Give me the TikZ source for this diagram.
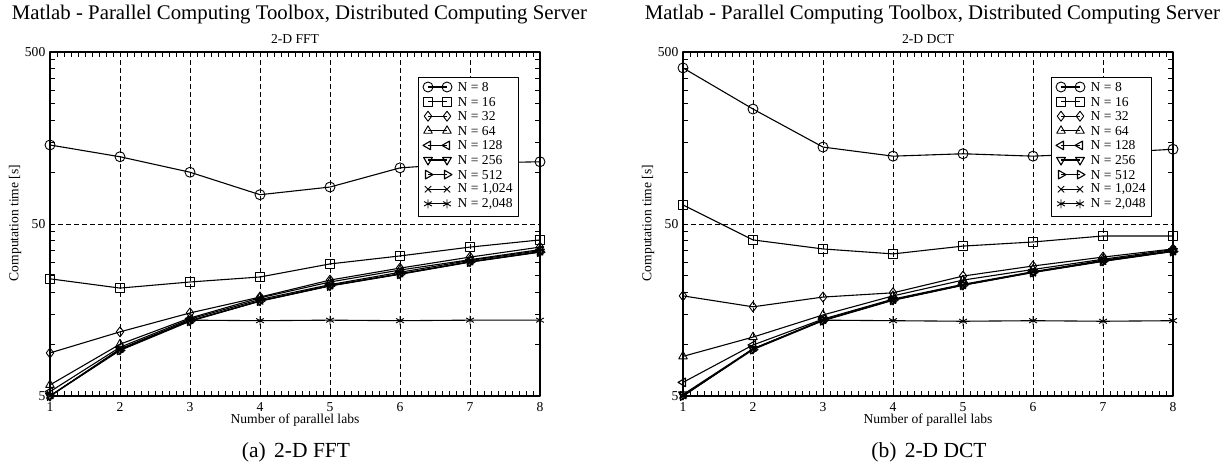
\documentclass[tikz,border=0pt]{standalone}
\usepackage{fontspec}
\setmainfont{Liberation Serif}
\usetikzlibrary{plotmarks}

% time axis is logarithmic: 500 s on top, one decade every 172 units
\pgfmathdeclarefunction{logy}{1}{\pgfmathparse{74.698*ln(500/#1)}}
\newcommand{\labfont}{\fontsize{13.6}{15}\selectfont}
\newcommand{\titlefont}{\fontsize{20.8}{23}\selectfont}
\newcommand{\capfont}{\fontsize{21.5}{24}\selectfont}

% one run of eight timings, labs = 1..8
\newcommand{\series}[2]{%
  \foreach \v [count=\i] in {#2}
    \coordinate (pt\i) at ({70*(\i-1)}, {logy(\v)});
  \draw[curve, #1] plot coordinates {(pt1) (pt2) (pt3) (pt4) (pt5) (pt6) (pt7) (pt8)};}

% frame, grid, ticks and labels of one panel (#1 prefix, #2 transform, #3 caption)
\newcommand{\panel}[3]{%
  \foreach \k in {1,...,6}
    \draw[grid] (70*\k,0) -- (70*\k,344);
  \draw[grid] (0,172) -- (490,172);
  \foreach \k in {0,...,70} {
    \draw[tick] (7*\k,344) -- ++(0,-5);
    \draw[tick] (7*\k,0) -- ++(0,5);}
  \foreach \v in {10,15,...,45,100,150,...,450} {
    \draw[tick] (0,{logy(\v)}) -- ++(5,0);
    \draw[tick] (490,{logy(\v)}) -- ++(-5,0);}
  \draw[frame] (0,0) rectangle (490,344);
  \foreach \v/\y in {500/0,50/172,5/344}
    \node[anchor=east, font=\labfont] (#1y\v) at (-4.5,\y) {\v};
  \foreach \k in {1,...,8}
    \node[font=\labfont] (#1x\k) at (70*\k-70,355) {\k};
  \node[font=\labfont] (#1xlabel) at (245,368) {Number of parallel labs};
  \node[font=\labfont, rotate=90] (#1ylabel) at (-35,171) {Computation time [s]};
  \node[anchor=base, font=\labfont] (#1sub) at (245,-8.7) {#2};
  \node[anchor=base, font=\titlefont] (#1title) at (249.5,-32.7)
    {Matlab - Parallel Computing Toolbox, Distributed Computing Server};
  \node[anchor=base, font=\capfont] (#1cap) at (246,405) {#3};}

% legend box with the nine problem sizes
\newcommand{\legendbox}[1]{%
  \draw[keybox] (368,25) rectangle (468,164);
  \foreach \n/\t [count=\r] in {8/8,16/16,32/32,64/64,128/128,256/256,512/512,1024/1{,}024,2048/2{,}048} {
    \draw[curve, n\n] plot coordinates {(378,35+14.6*\r-14.6) (397,35+14.6*\r-14.6)};
    \node[anchor=west, font=\labfont] (#1key\n) at (407.5,35+14.6*\r-14.6) {N = \t};}}

\begin{document}
\begin{tikzpicture}[x=1pt, y=-1pt, line join=round,
    every node/.style={inner sep=0pt},
    frame/.style={line width=1.2pt},
    tick/.style={line width=0.8pt},
    grid/.style={line width=0.8pt, dash pattern=on 5pt off 3pt},
    keybox/.style={line width=0.8pt, fill=white},
    curve/.style={line width=1.1pt, mark size=4.5pt, mark options={solid, line width=0.9pt}},
    n8/.style={mark=o, mark size=5pt},
    n16/.style={mark=square},
    n32/.style={mark=diamond, mark size=5pt},
    n64/.style={mark=triangle, mark size=5pt},
    n128/.style={mark=triangle, mark size=5pt, mark options={rotate=90}},
    n256/.style={mark=triangle, mark size=5pt, mark options={rotate=180}},
    n512/.style={mark=triangle, mark size=5pt, mark options={rotate=-90}},
    n1024/.style={mark=x},
    n2048/.style={mark=asterisk}]
  \useasboundingbox (0,0) rectangle (1223,468);

  % 2-D FFT
  \begin{scope}[shift={(50,52)}]
    \panel{a}{2-D FFT}{(a)\hspace{8.4pt}2-D FFT}
    \series{n8}{144,123,100,74,82,106,113,115}
    \series{n16}{24,21.2,23,24.6,29.3,32.6,36.7,40.4}
    \series{n32}{8.9,11.8,15.2,18.8,23.6,27.7,32.1,36.7}
    \series{n64}{5.8,10,14.2,18.6,23,27,31,35.5}
    \series{n128}{5.3,9.6,14,18.2,22.2,26.2,30.7,35}
    \series{n256}{5,9.3,13.7,17.9,21.9,25.7,30.2,34.5}
    \series{n512}{5,9.2,13.6,17.8,21.8,25.5,30,34.3}
    \series{n1024}{5,9.3,13.7,17.8,21.9,25.6,30.1,34.4}
    \series{n2048}{5,9.4,13.8,13.7,13.8,13.7,13.8,13.8}
    \legendbox{a}
  \end{scope}

  % 2-D DCT
  \begin{scope}[shift={(683,52)}]
    \panel{b}{2-D DCT}{(b)\hspace{8.4pt}2-D DCT}
    \series{n8}{404,233,140,124,128,124,129,136}
    \series{n16}{64.5,40.4,35.8,33.5,37.2,39.3,42.6,42.6}
    \series{n32}{19.1,16.5,18.8,19.9,24.9,28.5,32.1,35.8}
    \series{n64}{8.5,11,14.8,19.1,23.6,27.2,31.2,35.5}
    \series{n128}{6,9.9,14,18.3,22.3,26.4,30.8,35}
    \series{n256}{5.1,9.4,13.8,18.1,22.1,26.3,30.5,34.8}
    \series{n512}{5,9.3,13.7,18,22,26.1,30.3,34.6}
    \series{n1024}{5,9.4,13.8,18.1,22.1,26.2,30.4,34.7}
    \series{n2048}{5,9.4,13.8,13.7,13.6,13.7,13.6,13.7}
    \legendbox{b}
  \end{scope}
\end{tikzpicture}
\end{document}
